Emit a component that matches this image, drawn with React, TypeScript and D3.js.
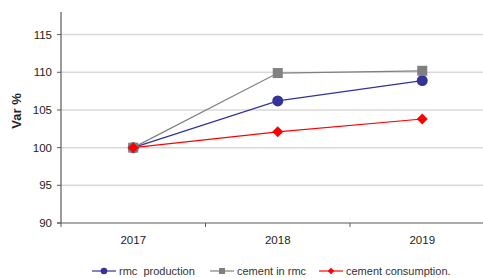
import React from 'react';
import * as d3 from 'd3';

const years = ['2017', '2018', '2019'];
const rmcProduction = [100, 106.2, 108.9];
const cementInRmc = [100, 109.9, 110.2];
const cementConsumption = [100, 102.1, 103.8];
const yTicks = [90, 95, 100, 105, 110, 115];

const series = [
  { name: 'rmc  production', values: rmcProduction, color: '#333399', marker: 'circle' },
  { name: 'cement in rmc', values: cementInRmc, color: '#808080', marker: 'square' },
  { name: 'cement consumption.', values: cementConsumption, color: '#ff0000', marker: 'diamond' },
];

const W = 483;
const H = 278;
const m = { t: 12, l: 61, b: 223, r: 494.5 };

const Marker = ({ type, x, y, color, s = 1 }: { type: string; x: number; y: number; color: string; s?: number }) => {
  if (type === 'circle') return <circle cx={x} cy={y} r={5.5 * s} fill={color} />;
  if (type === 'square') return <rect x={x - 5 * s} y={y - 5 * s} width={10 * s} height={10 * s} fill={color} />;
  const d = 5.5 * s;
  return <path d={`M${x},${y - d}L${x + d},${y}L${x},${y + d}L${x - d},${y}Z`} fill={color} />;
};

export default function App() {
  const x = d3.scaleBand().domain(years).range([m.l, m.r]);
  const y = d3.scaleLinear().domain([90, 118]).range([m.b, m.t]);
  const line = (vals: number[]) =>
    d3.line<number>().x((_, i) => x(years[i])! + x.bandwidth() / 2).y(v => y(v))(vals) || '';

  const legendPos = [92, 210, 319];

  return (
    <svg width={W} height={H} style={{ position: 'absolute', left: 0, top: 0, fontFamily: 'Liberation Sans, Arial, sans-serif' }}>
      <rect width={W} height={H} fill="#fff" />
      {yTicks.filter(t => t > 90).map(t => (
        <line key={t} x1={m.l} x2={W} y1={y(t)} y2={y(t)} stroke="#d9d9d9" strokeWidth={1.5} />
      ))}
      {/* axes */}
      <line x1={m.l} x2={m.l} y1={m.t} y2={m.b} stroke="#595959" strokeWidth={1.2} />
      <line x1={m.l - 4} x2={W} y1={m.b} y2={m.b} stroke="#595959" strokeWidth={1.2} />
      {yTicks.map(t => (
        <g key={t}>
          <line x1={m.l - 4} x2={m.l} y1={y(t)} y2={y(t)} stroke="#595959" />
          <text x={52} y={y(t)} dy="0.35em" textAnchor="end" fontSize={11.5} fill="#222">{t}</text>
        </g>
      ))}
      {years.map((yr, i) => (
        <g key={yr}>
          <line x1={x(yr)!} x2={x(yr)!} y1={m.b} y2={m.b + 4} stroke="#595959" />
          <text x={x(yr)! + x.bandwidth() / 2} y={244} textAnchor="middle" fontSize={11.5} fill="#222">{yr}</text>
        </g>
      ))}
      <text transform="translate(21,111) rotate(-90)" textAnchor="middle" fontSize={13} fontWeight="bold" fill="#222">Var %</text>

      {series.map(s => (
        <path key={s.name} d={line(s.values)} fill="none" stroke={s.color} strokeWidth={1.2} />
      ))}
      {series.map(s =>
        s.values.map((v, i) => (
          <Marker key={s.name + i} type={s.marker} x={x(years[i])! + x.bandwidth() / 2} y={y(v)} color={s.color} />
        ))
      )}

      {series.map((s, i) => (
        <g key={s.name} transform={`translate(${legendPos[i]},271)`}>
          <line x1={0} x2={24} y1={0} y2={0} stroke={s.color} strokeWidth={1.2} />
          <Marker type={s.marker} x={12} y={0} color={s.color} s={0.6} />
          <text x={27} y={0} dy="0.35em" fontSize={11} fill="#333" style={{ whiteSpace: 'pre' }}>{s.name}</text>
        </g>
      ))}
    </svg>
  );
}
